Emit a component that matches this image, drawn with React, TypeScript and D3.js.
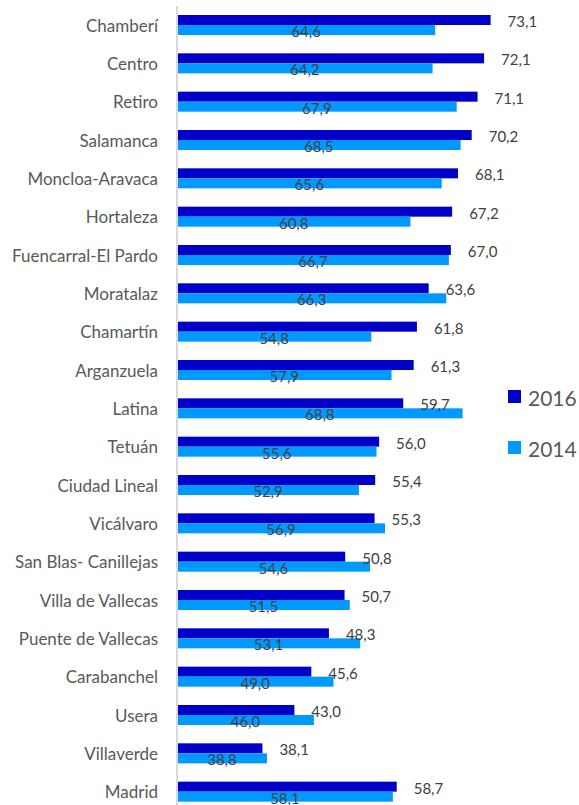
import React from "react";
import * as d3 from "d3";

const categories = [
  "Chamberí", "Centro", "Retiro", "Salamanca", "Moncloa-Aravaca", "Hortaleza",
  "Fuencarral-El Pardo", "Moratalaz", "Chamartín", "Arganzuela", "Latina", "Tetuán",
  "Ciudad Lineal", "Vicálvaro", "San Blas- Canillejas", "Villa de Vallecas",
  "Puente de Vallecas", "Carabanchel", "Usera", "Villaverde", "Madrid",
];
const values2016 = [73.1, 72.1, 71.1, 70.2, 68.1, 67.2, 67.0, 63.6, 61.8, 61.3, 59.7, 56.0, 55.4, 55.3, 50.8, 50.7, 48.3, 45.6, 43.0, 38.1, 58.7];
const values2014 = [64.6, 64.2, 67.9, 68.5, 65.6, 60.8, 66.7, 66.3, 54.8, 57.9, 68.8, 55.6, 52.9, 56.9, 54.6, 51.5, 53.1, 49.0, 46.0, 38.8, 58.1];
const seriesNames = ["2016", "2014"];
const seriesColors = ["#0000C8", "#0099FF"];
const xDomain = [25, 80];

const W = 579;
const H = 805;
const FONT = "Lato, 'Open Sans', sans-serif";
const TEXT = "#595959";
const VALTEXT = "#404040";

const locale = d3.formatLocale({ decimal: ",", thousands: ".", grouping: [3], currency: ["", "€"] });
const fmt = locale.format(".1f");

export default function App() {
  const x = d3.scaleLinear().domain(xDomain).range([177, 535.6]);
  const step = H / categories.length;
  const y = d3
    .scaleBand<string>()
    .domain(categories)
    .range([25 - step / 2, 25 + (categories.length - 0.5) * step])
    .paddingInner(0.478)
    .paddingOuter(0.239);
  const inner = d3.scaleBand<string>().domain(seriesNames).range([0, y.bandwidth()]);
  const series = [values2016, values2014];

  return (
    <svg width={W} height={H} style={{ position: "absolute", left: 0, top: 0, background: "#fff" }}>
      <rect width={W} height={H} fill="#fff" />
      {categories.map((c, i) => (
        <g key={c}>
          {series.map((vals, s) => {
            const y0 = (y(c) as number) + (inner(seriesNames[s]) as number);
            return (
              <rect
                key={s}
                x={x(xDomain[0])}
                y={y0}
                width={x(vals[i]) - x(xDomain[0])}
                height={inner.bandwidth()}
                fill={seriesColors[s]}
              />
            );
          })}
          <text
            x={158}
            y={(y(c) as number) + y.bandwidth() / 2}
            textAnchor="end"
            dominantBaseline="central"
            fontFamily={FONT}
            fontSize={17}
            fill={TEXT}
          >
            {c}
          </text>
          <text
            x={x(values2016[i]) + 17}
            y={(y(c) as number) + (inner("2016") as number) + inner.bandwidth() / 2 + 1}
            dominantBaseline="central"
            fontFamily={FONT}
            fontSize={15}
            fill={VALTEXT}
          >
            {fmt(values2016[i])}
          </text>
          <text
            x={(x(xDomain[0]) + x(values2014[i])) / 2}
            y={(y(c) as number) + (inner("2014") as number) + inner.bandwidth() / 2 + 1}
            textAnchor="middle"
            dominantBaseline="central"
            fontFamily={FONT}
            fontSize={15}
            fill={VALTEXT}
          >
            {fmt(values2014[i])}
          </text>
        </g>
      ))}
      <line x1={177} x2={177} y1={6} y2={H} stroke="#d9d9d9" strokeWidth={2} />
      {seriesNames.map((n, s) => (
        <g key={n} transform={`translate(508, ${396.5 + s * 51})`}>
          <rect x={0} y={-6.5} width={13} height={13} fill={seriesColors[s]} />
          <text x={20} y={1} dominantBaseline="central" fontFamily={FONT} fontSize={21} fill={TEXT}>
            {n}
          </text>
        </g>
      ))}
    </svg>
  );
}
